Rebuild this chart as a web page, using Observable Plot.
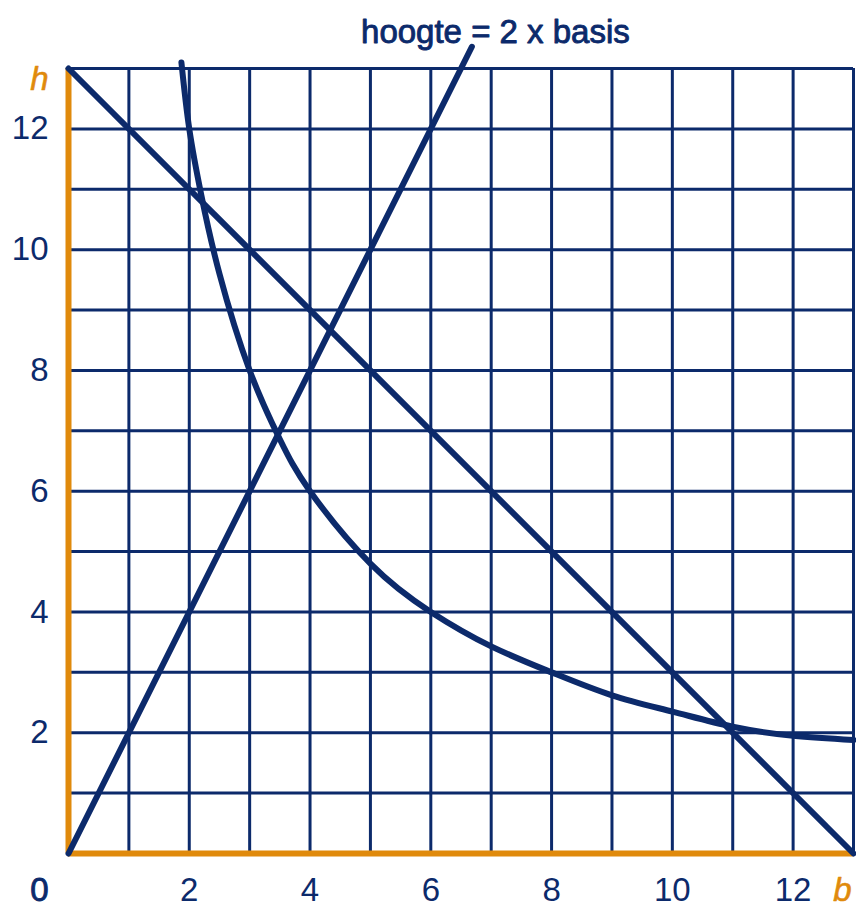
<!DOCTYPE html>
<html>
<head>
<meta charset="utf-8">
<script src="https://cdn.jsdelivr.net/npm/d3@7"></script>
<script src="https://cdn.jsdelivr.net/npm/@observablehq/plot@0.6"></script>
<style>
  html, body { margin: 0; padding: 0; background: #fff; }
  #chart svg { display: block; }
</style>
</head>
<body>
<div id="chart"></div>
<script>
// ---- data ----
const gridValues = [1, 2, 3, 4, 5, 6, 7, 8, 9, 10, 11, 12, 13];
const xTickLabels = [2, 4, 6, 8, 10, 12];
const yTickLabels = [2, 4, 6, 8, 10, 12];

// h = 13 - b
const sumB = [0, 13];
const sumH = [13, 0];

// hoogte = 2 x basis
const doubleB = [0, 6.68];
const doubleH = [0, 13.36];

// kromme b x h ≈ 24
const curveB = [1.87, 2, 2.2, 2.5, 3, 3.5, 4, 5, 6, 7, 8, 9, 10, 11, 12, 13];
const curveH = [13.1, 12, 10.9, 9.6, 8, 6.86, 6, 4.8, 4, 3.43, 3, 2.62, 2.35, 2.1, 1.95, 1.88];

const titleText = "hoogte = 2 x basis";
const titlePos = {b: 7.07, h: 13.43};

const navy = "#0c2a6b";
const orange = "#e08a0c";
const font = "Liberation Sans, Arial, sans-serif";

const sumData = sumB.map((b, i) => ({b, h: sumH[i]}));
const doubleData = doubleB.map((b, i) => ({b, h: doubleH[i]}));
const curveData = curveB.map((b, i) => ({b, h: curveH[i]}));

const chart = Plot.plot({
  width: 856,
  height: 909,
  marginLeft: 68,
  marginRight: 3,
  marginTop: 68,
  marginBottom: 56,
  x: {domain: [0, 13], axis: null},
  y: {domain: [0, 13], axis: null},
  style: {fontFamily: font, background: "#fff", overflow: "visible"},
  marks: [
    // grid
    Plot.ruleX(gridValues, {x: d => d, y1: 0, y2: 13, stroke: navy, strokeWidth: 3}),
    Plot.ruleY(gridValues, {y: d => d, x1: 0, x2: 13, stroke: navy, strokeWidth: 3}),
    // orange axes
    Plot.ruleX([0], {y1: 0, y2: 13, stroke: orange, strokeWidth: 6}),
    Plot.ruleY([0], {x1: 0, x2: 13, stroke: orange, strokeWidth: 6}),
    // curves
    Plot.line(sumData, {x: "b", y: "h", stroke: navy, strokeWidth: 6, strokeLinecap: "round"}),
    Plot.line(doubleData, {x: "b", y: "h", stroke: navy, strokeWidth: 6, strokeLinecap: "round"}),
    Plot.line(curveData, {x: "b", y: "h", stroke: navy, strokeWidth: 6, strokeLinecap: "round", curve: "natural"}),
    // tick labels
    Plot.axisX(xTickLabels, {anchor: "bottom", label: null, tickSize: 0, tickPadding: 24, fontSize: 33, fill: navy, tickFormat: d => String(d), strokeWidth: 0.9, stroke: navy}),
    Plot.axisY(yTickLabels, {anchor: "left", label: null, tickSize: 0, tickPadding: 20, fontSize: 33, fill: navy, tickFormat: d => String(d), strokeWidth: 0.9, stroke: navy}),
    Plot.text(["0"], {x: 0, y: 0, text: d => d, textAnchor: "end", lineAnchor: "top", dx: -20, dy: 24, fontSize: 33, fill: navy, stroke: navy, strokeWidth: 0.9}),
    Plot.text(["h"], {x: 0, y: 13, text: d => d, textAnchor: "end", lineAnchor: "top", dx: -20, dy: -2, fontSize: 33, fontStyle: "italic", fill: orange, stroke: orange, strokeWidth: 0.6}),
    Plot.text(["b"], {x: 13, y: 0, text: d => d, textAnchor: "end", lineAnchor: "top", dx: -2, dy: 24, fontSize: 33, fontStyle: "italic", fill: orange, stroke: orange, strokeWidth: 0.6}),
    Plot.text([titlePos], {x: "b", y: "h", text: () => titleText, textAnchor: "middle", lineAnchor: "bottom", fontSize: 33, fill: navy, stroke: navy, strokeWidth: 0.9})
  ]
});
document.getElementById("chart").appendChild(chart);
</script>
</body>
</html>
